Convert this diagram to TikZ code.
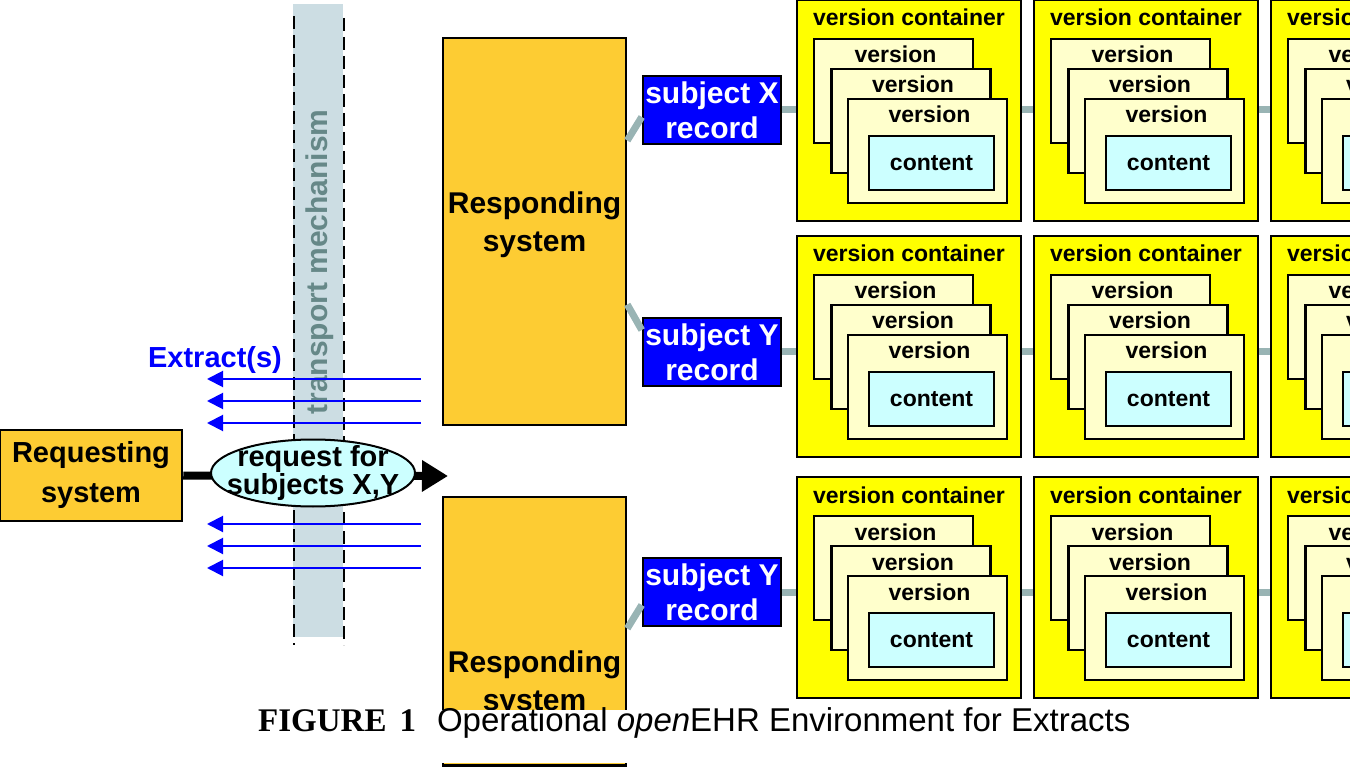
\documentclass[tikz,border=0pt]{standalone}
\usepackage{fontspec}
\setmainfont{Liberation Sans}
\newfontfamily\figserif{Liberation Serif}
\usetikzlibrary{arrows.meta,positioning,shapes.geometric}

\definecolor{sysorange}{RGB}{253,204,51}
\definecolor{recblue}{RGB}{0,0,255}
\definecolor{contyellow}{RGB}{255,255,0}
\definecolor{verpale}{RGB}{255,255,204}
\definecolor{contcyan}{RGB}{204,255,255}
\definecolor{linkgray}{RGB}{153,180,180}
\definecolor{bandgray}{RGB}{204,221,227}
\definecolor{bandtext}{RGB}{102,136,136}

\begin{document}
\begin{tikzpicture}[
    x=1pt, y=-1pt,
    sysbox/.style={
        draw,
        line width=2.5pt,
        fill=sysorange,
        inner sep=0pt
    },
    systext/.style={align=center, inner sep=0pt, font=\bfseries\fontsize{30}{38}\selectfont},
    recbox/.style={
        draw,
        line width=2.5pt,
        fill=recblue,
        text=white,
        inner sep=0pt,
        minimum width=138pt,
        minimum height=68pt,
        align=center,
        font=\bfseries\fontsize{30}{35}\selectfont
    },
    vcont/.style={draw, line width=2.5pt, fill=contyellow, minimum width=224pt, minimum height=221pt, inner sep=0pt},
    verbox/.style={draw, line width=2.5pt, fill=verpale, minimum width=159pt, minimum height=104pt, inner sep=0pt},
    contbox/.style={draw, line width=2.5pt, fill=contcyan, minimum width=125pt, minimum height=54pt, inner sep=0pt,
        font=\bfseries\fontsize{23}{28}\selectfont},
    vtext/.style={anchor=base, inner sep=0pt, font=\bfseries\fontsize{23}{28}\selectfont},
    link/.style={line width=7pt, linkgray},
    extr/.style={blue, line width=2pt, -{Triangle[length=16pt,width=16pt]}},
    tdash/.style={line width=2pt, dash pattern=on 13pt off 6pt}
]
\useasboundingbox (0,0) rectangle (1350,767);
\clip (0,0) rectangle (1350,767);

% transport band
\fill[bandgray] (293,4) rectangle (343,637);
\draw[tdash] (294,16) -- (294,645);
\draw[tdash] (344,18) -- (344,645);
\node[rotate=90, text=bandtext, inner sep=0pt, font=\bfseries\fontsize{30}{36}\selectfont] (tmech) at (320,262) {transport mechanism};

% extracts coming back
\foreach \y [count=\i] in {379,401,423,524,546,568} {
    \coordinate (exs\i) at (421,\y);
    \coordinate (exe\i) at (207,\y);
    \draw[extr] (exs\i) -- (exe\i);
}
\node[anchor=base, blue, inner sep=0pt, font=\bfseries\fontsize{29}{34}\selectfont] (extlabel) at (215,368) {Extract(s)};

% request
\node[sysbox, minimum width=182pt, minimum height=91pt, systext, font=\bfseries\fontsize{29}{40}\selectfont] (reqsys) at (91,475.5) {Requesting\\system};
\coordinate (reqtip) at (448,476);
\draw[line width=8pt, -{Triangle[length=26pt,width=30pt]}] (reqsys.east) -- (reqtip);
\node[draw, ellipse, line width=2pt, fill=contcyan, minimum width=204pt, minimum height=67pt, inner sep=0pt] (req) at (313,473) {};
\node[align=center, inner sep=0pt, font=\bfseries\fontsize{29}{27}\selectfont] (reqtext) at (req.center) {request for\\subjects X,Y};

% responding systems
\node[sysbox, minimum width=183pt, minimum height=387pt] (resp1) at (534.5,231.5) {};
\node[systext] (resp1text) at ([yshift=7pt]resp1.center) {Responding\\system};
\node[sysbox, minimum width=183pt, minimum height=387pt] (resp2) at (534.5,690.5) {};
\node[systext] (resp2text) at ([yshift=7pt]resp2.center) {Responding\\system};

% subject records
\node[recbox] (sx)  at (712,110) {subject X\\record};
\node[recbox] (sy)  at (712,352) {subject Y\\record};
\node[recbox] (sy2) at (712,592) {subject Y\\record};

\draw[link] ([yshift=91pt]resp1.east) -- ([yshift=-7pt]sx.west);
\draw[link] ([yshift=-73pt]resp1.east) -- ([yshift=22pt]sy.west);
\draw[link] ([yshift=62pt]resp2.east) -- ([yshift=-13pt]sy2.west);

% version containers
\foreach \r/\ty in {1/0,2/236,3/477} {
    \foreach \c in {1,2,3} {
        \pgfmathsetmacro{\tx}{797+237*(\c-1)}
        \node[vcont] (vc\r\c) at (\tx+112,\ty+110.5) {};
        \node[vtext] (vcl\r\c) at (\tx+112,\ty+26) {version container};
        \node[verbox] (va\r\c) at (\tx+96.5,\ty+91) {};
        \node[vtext] (val\r\c) at (\tx+98.5,\ty+63) {version};
        \node[verbox] (vb\r\c) at (\tx+114,\ty+121) {};
        \node[vtext] (vbl\r\c) at (\tx+116,\ty+93) {version};
        \node[verbox] (vd\r\c) at (\tx+130.5,\ty+151) {};
        \node[vtext] (vdl\r\c) at (\tx+132.5,\ty+123) {version};
        \node[contbox] (ct\r\c) at (\tx+134.5,\ty+163) {content};
    }
}

\draw[link] (sx.east) -- (sx.east -| vc11.west);
\draw[link] (vc11.east |- sx.east) -- (vc12.west |- sx.east);
\draw[link] (vc12.east |- sx.east) -- (vc13.west |- sx.east);
\draw[link] (sy.east) -- (sy.east -| vc21.west);
\draw[link] (vc21.east |- sy.east) -- (vc22.west |- sy.east);
\draw[link] (vc22.east |- sy.east) -- (vc23.west |- sy.east);
\draw[link] (sy2.east) -- (sy2.east -| vc31.west);
\draw[link] (vc31.east |- sy2.east) -- (vc32.west |- sy2.east);
\draw[link] (vc32.east |- sy2.east) -- (vc33.west |- sy2.east);

% caption
\fill[white] (0,710) rectangle (1350,763);
\node[anchor=base west, inner sep=0pt, font=\fontsize{33}{40}\selectfont] (caption) at (258,731)
    {{\figserif\bfseries FIGURE\hspace{13pt}1}\hspace{21pt}Operational \textit{open}EHR Environment for Extracts};
\node[sysbox, minimum width=183pt, minimum height=387pt, anchor=north] (resp3) at (534.5,764) {};

\end{tikzpicture}
\end{document}
